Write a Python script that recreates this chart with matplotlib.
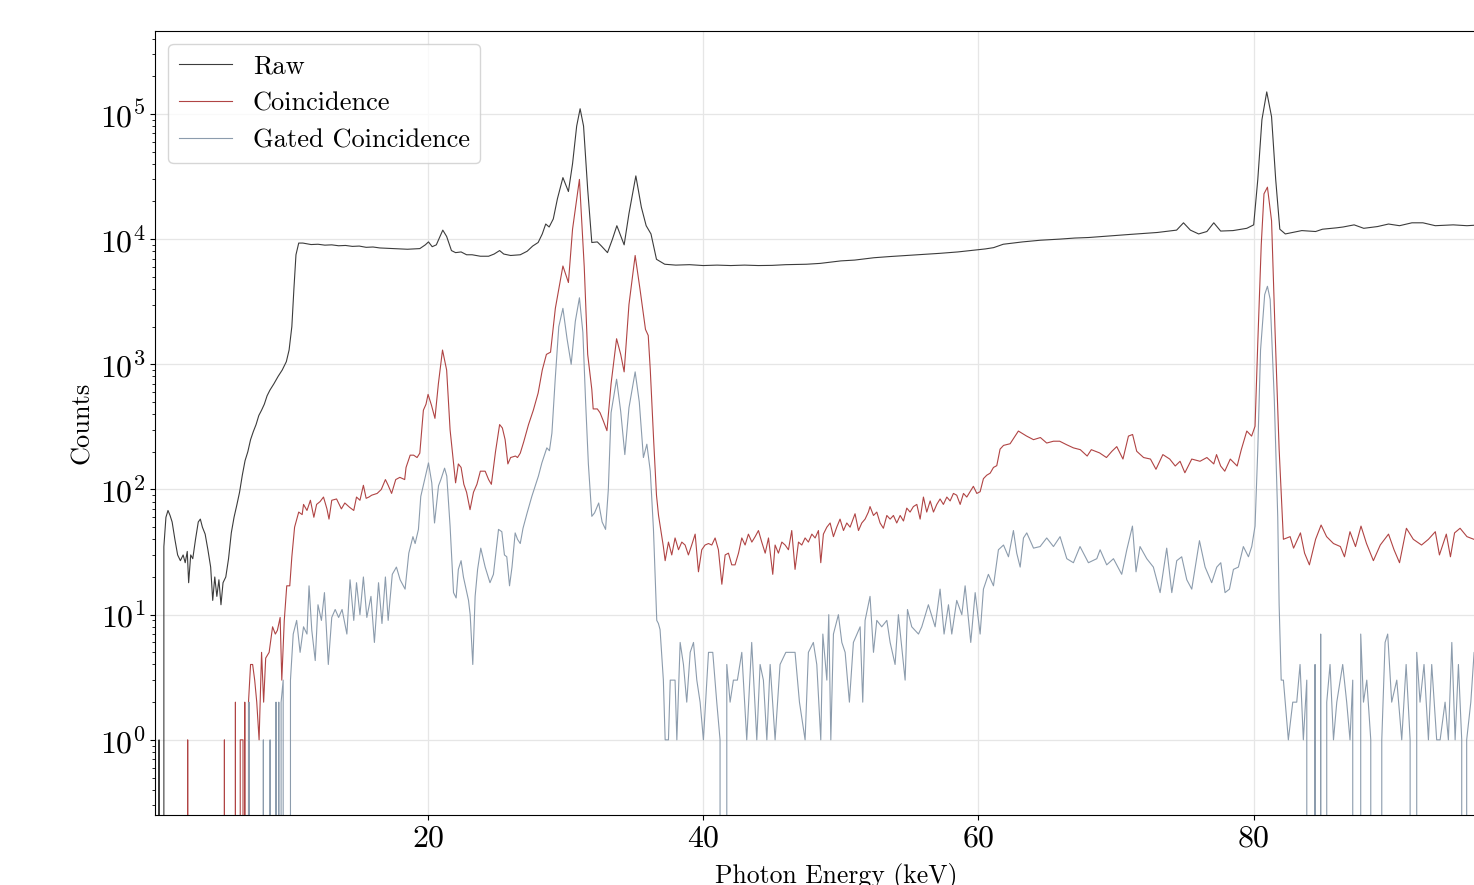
import matplotlib
matplotlib.use("Agg")
import matplotlib.pyplot as plt
import numpy as np

plt.rcParams["font.family"] = "serif"
plt.rcParams["font.serif"] = ["cmr10", "DejaVu Serif"]
plt.rcParams["mathtext.fontset"] = "cm"
plt.rcParams["axes.formatter.use_mathtext"] = True

# spectra (energy in keV, counts per bin)
raw_e = [0.30, 0.45, 0.60, 0.80, 0.95, 1.1, 1.25, 1.4, 1.6, 1.8, 2.0, 2.2, 2.35, 2.5, 2.6,
         2.75, 2.9, 3.1, 3.3, 3.45, 3.6, 3.8, 4.0, 4.2, 4.35, 4.5, 4.65, 4.8, 4.95, 5.1,
         5.3, 5.5, 5.7, 5.9, 6.1, 6.3, 6.5, 6.7, 6.9, 7.1, 7.3, 7.5, 7.7, 7.9, 8.1, 8.3,
         8.5, 8.8, 9.1, 9.4, 9.7, 9.9, 10.1, 10.25, 10.4, 10.6, 10.9, 11.5, 12.0, 12.5,
         13.0, 13.5, 14.0, 14.5, 15.0, 15.5, 16.0, 16.5, 17.0, 17.5, 18.0, 18.5, 19.0,
         19.4, 19.8, 20.03, 20.3, 20.6, 21.07, 21.35, 21.7, 22.0, 22.4, 22.8, 23.2, 23.8,
         24.4, 24.8, 25.2, 25.5, 26.0, 26.7, 27.2, 27.6, 28.0, 28.3, 28.55, 28.8, 29.1,
         29.4, 29.8, 30.2, 30.5, 30.8, 31.05, 31.3, 31.6, 31.9, 32.3, 32.6, 33.04, 33.4,
         33.72, 34.25, 34.6, 35.1, 35.5, 35.85, 36.2, 36.6, 37.2, 38.0, 39.0, 40.0, 41.0,
         42.0, 43.0, 44.0, 45.0, 46.0, 47.5, 48.5, 50.0, 51.0, 52.4, 53.5, 54.8, 56.0,
         57.2, 58.5, 59.6, 60.5, 61.1, 61.8, 63.2, 64.5, 65.9, 67.0, 68.0, 69.0, 70.0,
         71.0, 72.0, 73.0, 74.4, 74.9, 75.4, 76.0, 76.6, 77.1, 77.6, 78.5, 79.5, 80.0,
         80.3, 80.6, 80.95, 81.3, 81.6, 81.9, 82.3, 83.5, 84.5, 85.0, 86.0, 86.5, 87.3,
         88.0, 89.0, 89.8, 90.6, 91.5, 92.3, 93.2, 94.5, 95.5, 96.5, 99.0]
raw_c = [0, 1, 0, 35, 60, 68, 62, 55, 40, 30, 27, 30, 26, 32, 18,
         30, 28, 40, 55, 58, 50, 44, 33, 24, 13, 20, 14, 19, 12, 18,
         20, 28, 45, 60, 75, 95, 130, 170, 200, 250, 290, 330, 390, 430, 480, 560,
         620, 700, 800, 900, 1050, 1300, 2000, 4000, 7500, 9300, 9300, 9050, 9100, 8950,
         9000, 8850, 8900, 8750, 8800, 8600, 8650, 8500, 8450, 8400, 8350, 8300, 8350,
         8400, 9000, 9500, 8700, 9000, 11800, 10500, 8100, 7800, 7900, 7500, 7500, 7300,
         7300, 7600, 8100, 7600, 7400, 7500, 8000, 8800, 9400, 11000, 13200, 12500, 14500,
         21000, 31000, 24000, 40000, 80000, 110000, 80000, 25000, 9400, 9500, 8800, 7800, 10000,
         12800, 9000, 16000, 32000, 18000, 12800, 11000, 6900, 6300, 6200, 6250, 6150, 6200,
         6150, 6200, 6150, 6170, 6250, 6300, 6400, 6700, 6800, 7100, 7250, 7400, 7550,
         7700, 7900, 8150, 8350, 8550, 9100, 9500, 9800, 10000, 10200, 10300, 10500, 10700,
         10900, 11100, 11300, 11800, 13500, 11800, 11000, 11500, 13500, 11600, 11700, 12200, 13000,
         30000, 90000, 150000, 95000, 30000, 12000, 11000, 11700, 11500, 12000, 12300, 12500, 13000,
         12200, 12600, 13200, 12800, 13500, 13500, 12800, 13000, 12800, 13000, 13000]

coinc_e = [0.30, 2.40, 2.53, 2.66, 5.07, 5.2, 5.33, 5.87, 6.0, 6.13, 6.25, 6.35, 6.55, 6.62,
           6.68, 6.8, 6.95, 7.1, 7.25, 7.4, 7.55, 7.72, 7.9, 8.05, 8.2, 8.45, 8.7, 8.9,
           9.05, 9.25, 9.37, 9.55, 9.73, 9.95, 10.1, 10.3, 10.6, 10.85, 10.95, 11.2, 11.45,
           11.7, 11.9, 12.15, 12.4, 12.65, 12.8, 13.0, 13.35, 13.7, 13.95, 14.3, 14.6, 14.8,
           15.05, 15.3, 15.5, 15.7, 15.9, 16.3, 16.6, 16.9, 17.1, 17.35, 17.65, 17.95, 18.3,
           18.4, 18.7, 18.95, 19.2, 19.4, 19.66, 19.85, 20.0, 20.25, 20.5, 20.75, 21.05,
           21.35, 21.6, 21.85, 22.0, 22.2, 22.4, 22.6, 22.8, 23.05, 23.3, 23.55, 23.8, 24.15,
           24.4, 24.6, 24.9, 25.2, 25.4, 25.6, 25.8, 26.0, 26.35, 26.5, 26.7, 26.95, 27.3,
           27.65, 28.0, 28.3, 28.6, 28.9, 29.25, 29.55, 29.8, 30.2, 30.5, 31.0, 31.35, 31.6,
           31.9, 32.0, 32.3, 32.5, 32.75, 33.0, 33.3, 33.7, 34.0, 34.25, 34.6, 35.05, 35.4,
           35.8, 36.0, 36.15, 36.4, 36.6, 36.75, 36.95, 37.1, 37.23, 37.47, 37.71, 37.95,
           38.2, 38.44, 38.68, 38.92, 39.16, 39.41, 39.65, 39.89, 40.13, 40.38, 40.62, 40.86,
           41.1, 41.35, 41.59, 41.83, 42.07, 42.31, 42.56, 42.8, 43.04, 43.28, 43.53, 43.77,
           44.01, 44.25, 44.5, 44.74, 45.05, 45.22, 45.46, 45.71, 45.95, 46.19, 46.43, 46.67,
           46.92, 47.16, 47.4, 47.64, 47.89, 48.13, 48.37, 48.54, 48.73, 48.98, 49.22, 49.46,
           49.7, 49.94, 50.19, 50.43, 50.67, 51.03, 51.28, 51.52, 51.76, 52.0, 52.12, 52.37,
           52.61, 52.85, 53.09, 53.34, 53.58, 53.82, 54.06, 54.31, 54.55, 54.79, 55.03, 55.27,
           55.52, 55.76, 56.0, 56.24, 56.49, 56.73, 56.97, 57.21, 57.45, 57.7, 57.94, 58.18,
           58.42, 58.67, 58.91, 59.15, 59.39, 59.63, 59.88, 60.12, 60.36, 60.6, 60.85, 61.09,
           61.33, 61.57, 61.82, 62.3, 62.9, 63.5,
           64.0, 64.5, 64.96, 65.45, 65.9, 66.4, 66.9, 67.4, 67.9, 68.2, 68.8, 69.3, 69.7,
           70.05, 70.5, 70.9, 71.2, 71.5, 72.0, 72.5, 72.9, 73.4, 73.9, 74.3, 74.65, 75.0,
           75.5, 76.1, 76.6, 77.1, 77.3, 77.6, 77.9, 78.3, 78.8, 79.1, 79.5, 79.85, 80.1,
           80.3, 80.55, 80.75, 81.0, 81.3, 81.55, 81.85, 82.16, 82.65, 82.9, 83.4, 83.7,
           84.05, 84.5, 84.9, 85.3, 85.8, 86.3, 86.6, 87.0, 87.4, 87.8, 88.2, 88.7, 89.2,
           89.8, 90.2, 90.6, 91.1, 91.6, 92.2, 92.7, 93.2, 93.5, 94.0, 94.3, 94.6, 95.0,
           95.5, 96.0, 97.0, 98.0, 99.0]
coinc_c = [0, 0, 1, 0, 0, 1, 0, 0, 2, 0, 0, 1, 1, 0,
           2, 0, 2, 4, 4, 3, 2, 1, 5, 2, 4.5, 5, 8, 7,
           7.5, 9.5, 3, 9, 17, 17, 29, 50, 66, 63, 76, 68, 82,
           60, 76, 80, 87, 70, 58, 82, 84, 70, 78, 72, 68, 87,
           82, 108, 85, 87, 90, 93, 100, 120, 108, 93, 120, 125, 120,
           150, 188, 188, 180, 195, 430, 480, 575, 470, 370, 700, 1300,
           900, 300, 163, 113, 160, 150, 110, 95, 69, 95, 110, 140, 140,
           120, 110, 200, 330, 310, 250, 160, 180, 185, 180, 195, 240, 330,
           430, 590, 900, 1200, 1250, 2800, 4300, 6100, 4500, 12000, 30000, 6000, 1200,
           630, 440, 440, 410, 350, 295, 700, 1600, 1200, 870, 3000, 7400, 4000,
           1900, 1700, 900, 240, 90, 62, 45, 35, 27, 38, 30, 41,
           33, 38, 36, 30, 36, 44, 22, 33, 36, 37, 36, 41,
           33, 17.5, 30, 31, 25, 25, 31, 41, 36, 44, 38, 42,
           47, 38, 31, 41, 21, 36, 31, 38, 36, 33, 47, 23,
           38, 36, 41, 38, 44, 41, 47, 26, 44, 50, 54, 42,
           50, 58, 47, 54, 50, 64, 47, 54, 58, 66, 73, 62,
           66, 54, 49, 62, 58, 62, 54, 62, 56, 71, 66, 73,
           76, 58, 87, 66, 81, 66, 76, 84, 76, 87, 81, 93,
           90, 76, 93, 87, 96, 106, 93, 96, 122, 130, 135, 150,
           155, 210, 225, 232, 293, 267,
           250, 260, 235, 243, 243, 228, 215, 208, 185, 208, 196, 180, 202,
           220, 175, 267, 275, 202, 180, 175, 145, 190, 175, 154, 168, 136,
           175, 168, 180, 160, 190, 154, 140, 175, 154, 208, 293, 267, 320,
           1500, 9000, 23000, 26000, 14000, 1900, 210, 40, 42, 34, 45, 31,
           25, 40, 52, 42, 37, 35, 29, 46, 35, 51, 37, 27, 36,
           44, 33, 26, 49, 40, 36, 40, 46, 30, 44, 29, 45, 49,
           42, 40, 38, 44, 40]

gated_e = [0.30, 6.85, 6.99, 7.13, 7.9, 8.03, 8.16, 8.4, 8.52, 8.65, 8.85, 8.95, 9.08, 9.15,
           9.25, 9.32, 9.47, 9.6, 9.85, 10.0, 10.2, 10.45, 10.7, 10.95, 11.2, 11.35, 11.55,
           11.8, 12.0, 12.25, 12.47, 12.75, 13.0, 13.25, 13.5, 13.75, 14.1, 14.33, 14.6,
           14.8, 15.05, 15.3, 15.55, 15.85, 16.1, 16.4, 16.65, 16.9, 17.1, 17.4, 17.7,
           17.97, 18.33, 18.6, 18.9, 19.06, 19.3, 19.47, 19.8, 20.03, 20.27, 20.47, 20.76,
           20.93, 21.2, 21.36, 21.6, 21.85, 22.04, 22.2, 22.4, 22.57, 22.94, 23.06, 23.25,
           23.42, 23.6, 23.83, 24.15, 24.5, 24.75, 25.12, 25.36, 25.55, 25.72, 25.92, 26.1,
           26.33, 26.5, 26.7, 26.9, 27.2, 27.54, 27.78, 28.02, 28.27, 28.63, 28.82, 29.0,
           29.24, 29.5, 29.8, 30.1, 30.4, 30.7, 31.0, 31.25, 31.45, 31.65, 31.9, 32.1, 32.4,
           32.65, 32.9, 33.1, 33.3, 33.7, 34.0, 34.3, 34.6, 35.05, 35.35, 35.65, 35.9,
           36.15, 36.38, 36.62, 36.74, 36.86, 37.1, 37.23, 37.47, 37.6, 37.95, 38.08, 38.32,
           38.56, 38.8, 39.05, 39.29, 39.53, 39.77, 40.01, 40.38, 40.69, 40.98, 41.22, 41.35,
           41.59, 41.71, 41.95, 42.19, 42.48, 42.8, 43.16, 43.52, 43.89, 44.13, 44.37, 44.62,
           44.86, 45.22, 45.58, 46.0, 46.31, 46.67, 46.99, 47.4, 47.64, 48.0, 48.25, 48.54,
           48.69, 48.98, 49.12, 49.27, 49.46, 49.82, 50.07, 50.31, 50.62, 50.91, 51.4, 51.59,
           51.76, 52.12, 52.37, 52.61, 52.97, 53.34, 53.58, 53.94, 54.18, 54.67, 54.84, 55.15,
           55.64, 55.88, 56.36, 56.85, 57.21, 57.5, 57.82, 58.06, 58.42, 58.79, 59.03, 59.44,
           59.76, 60.12, 60.36, 60.72, 61.09, 61.45, 61.82, 62.18, 62.54, 62.78, 63.03, 63.27,
           63.51, 64.0, 64.48, 64.96, 65.45, 65.93, 66.42, 66.9, 67.38, 67.99, 68.6, 68.84,
           69.32, 69.81, 70.41, 70.78, 71.19, 71.45, 71.74, 72.23, 72.71, 73.2, 73.68, 74.05,
           74.41, 74.77, 75.14, 75.5, 76.06, 76.47, 76.95, 77.32, 77.61, 77.92, 78.24, 78.53,
           78.89, 79.25, 79.62, 79.86, 80.1, 80.3, 80.5, 80.8, 81.0, 81.2, 81.5, 81.75,
           81.85, 82.0, 82.16, 82.52, 82.84, 83.13, 83.37, 83.61, 83.86, 84.1, 84.46, 84.7,
           84.87, 85.19, 85.31, 85.55, 85.8, 86.04, 86.47, 86.76, 87.0, 87.2, 87.49, 87.78,
           87.98, 88.22, 88.51, 88.82, 89.07, 89.31, 89.55, 89.74, 90.03, 90.4, 90.76, 91.08,
           91.37, 91.61, 91.85, 92.09, 92.38, 92.7, 92.94, 93.3, 93.55, 93.91, 94.15, 94.4,
           94.64, 94.88, 95.12, 95.29, 95.48, 95.78, 96.02, 96.5, 97.0, 97.5, 98.0, 98.5, 99.0]
gated_c = [0, 0, 2, 0, 0, 1, 0, 0, 1, 0, 0, 2, 0, 2,
           0, 2, 3, 0, 0, 3, 7, 9, 5, 8, 7, 17, 7.5,
           4.3, 12, 9, 15, 4, 9.5, 11, 9.5, 11, 7, 19, 9,
           18, 10, 20, 9.5, 14, 6, 18, 8.5, 20, 9, 21, 24,
           19, 16, 31, 42, 37, 48, 88, 127, 163, 113, 54, 107,
           120, 148, 128, 51, 15, 13.6, 23, 27, 20, 13, 10, 4,
           14, 23, 34, 24, 18, 21, 48, 46, 30, 29, 17, 24,
           45, 40, 37, 49, 65, 88, 106, 128, 163, 215, 204, 282,
           760, 2000, 2800, 1600, 1000, 2200, 3400, 1800, 500, 160, 61, 65, 78,
           55, 48, 100, 410, 760, 420, 190, 450, 870, 500, 180, 230,
           140, 48, 9, 8.5, 7.6, 3, 1, 1, 3, 3, 1, 6,
           4, 2, 5, 6, 3, 2, 1, 5, 5, 2, 1, 0,
           0, 4, 2, 3, 3, 5, 1, 6, 1, 4, 3, 1,
           4, 1, 4, 5, 5, 5, 2, 1, 5, 6, 4, 1,
           7, 3, 10, 1, 7, 10, 6, 5, 2, 6, 8, 2,
           9, 14, 5, 9, 8, 9, 6, 4, 10, 3, 11, 8,
           7, 8, 12, 8, 16, 7, 12, 7, 13, 10, 17, 6,
           15, 7, 16, 21, 17, 33, 36, 29, 47, 31, 24, 41,
           45, 34, 35, 41, 35, 42, 28, 26, 35, 26, 28, 33,
           25, 28, 21, 33, 51, 22, 35, 28, 24, 15, 34, 15,
           27, 29, 19, 16, 39, 24, 18, 24, 26, 15, 16, 23,
           24, 35, 29, 35, 51, 210, 1300, 3600, 4200, 3300, 520, 60,
           12, 3, 3, 1, 2, 2, 4, 1, 3, 0, 4, 0,
           7, 0, 2, 4, 1, 2, 4, 2, 1, 3, 0, 7,
           2, 3, 1, 0, 0, 1, 6, 7, 2, 3, 1, 4,
           1, 0, 5, 2, 4, 1, 4, 1, 1, 2, 1, 6,
           1, 4, 1, 0, 1, 2, 5, 1, 3, 0, 2, 4, 1]

fig = plt.figure(figsize=(14.74, 8.85), dpi=100)
ax = fig.add_axes([0.1052, 0.0791, 0.924, 0.8859])

ax.plot(raw_e, raw_c, color="#3c3c3c", lw=0.8, label="Raw")
ax.plot(coinc_e, coinc_c, color="#b04444", lw=0.8, label="Coincidence")
ax.plot(gated_e, gated_c, color="#8c9cad", lw=0.8, label="Gated Coincidence")

ax.set_yscale("log")
ax.set_xlim(0.16, 99.14)
ax.set_ylim(0.251, 4.6e5)
ax.set_xticks([20, 40, 60, 80])
ax.grid(True, which="major", color="#e6e6e6", lw=0.9)
ax.set_axisbelow(True)
ax.tick_params(axis="both", which="major", labelsize=23)
ax.set_xlabel("Photon Energy (keV)", fontsize=18.5, labelpad=7.5)
ax.set_ylabel("Counts", fontsize=19)
ax.legend(loc="upper left", fontsize=19)

fig.savefig("out.png", dpi=100)
